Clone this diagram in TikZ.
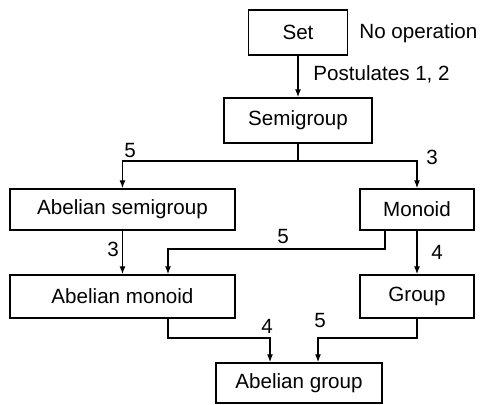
\documentclass[tikz,border=0pt]{standalone}
\usepackage{fontspec}
\setmainfont{Liberation Sans}
\usetikzlibrary{arrows.meta}
\begin{document}
\begin{tikzpicture}[x=0.5pt,y=-0.5pt,
  font=\fontsize{10.3}{12}\selectfont,
  box/.style={draw,line width=0.7pt,inner sep=0pt},
  link/.style={line width=0.6pt},
  arr/.style={link,-{Latex[length=4pt,width=3pt]}}]
\useasboundingbox (0,0) rectangle (484,405);
\node[box,minimum width=49.5pt,minimum height=22.5pt] (set) at (298,32.5) {Set};
\node[box,minimum width=74pt,minimum height=22.5pt] (semi) at (298,120.5) {Semigroup};
\node[box,minimum width=112.5pt,minimum height=20.5pt] (absemi) at (122.5,209.5) {Abelian semigroup};
\node[box,minimum width=57pt,minimum height=20.5pt] (monoid) at (417,209.5) {Monoid};
\node[box,minimum width=112.5pt,minimum height=21.5pt] (abmon) at (122.5,296.5) {Abelian monoid};
\node[box,minimum width=57pt,minimum height=21.5pt] (group) at (417,296.5) {Group};
\node[box,minimum width=83pt,minimum height=20pt] (abgrp) at (299,383) {Abelian group};
% bends
\coordinate (j1) at (298,161);
\coordinate (b5) at (385,249);
\coordinate (c5) at (168,249);
\coordinate (b4) at (168,338);
\coordinate (e4) at (270,338);
\coordinate (e5) at (318,338);
% labels
\node[anchor=west,inner sep=0pt] (noop) at (359,33) {No operation};
\node[anchor=west,inner sep=0pt] (post) at (313,74) {Postulates 1, 2};
\node (l1) at (130,151) {5};
\node (l2) at (432,157) {3};
\node (l3) at (113,249) {3};
\node (l4) at (283,237) {5};
\node (l5) at (437,252) {4};
\node (l6) at (267,326) {4};
\node (l7) at (320,321) {5};
% connectors
\draw[arr] (set) -- (semi);
\draw[link] (semi) -- (j1);
\draw[arr] (j1) -| (absemi.north);
\draw[arr] (j1) -| (monoid.north);
\draw[arr] (absemi) -- (abmon);
\draw[arr] (monoid.south -| b5) -- (b5) -- (c5) -- (c5 |- abmon.north);
\draw[arr] (monoid) -- (group);
\draw[arr] (abmon.south -| b4) -- (b4) -- (e4) -- (e4 |- abgrp.north);
\draw[arr] (group.south) |- (e5) -- (e5 |- abgrp.north);
\end{tikzpicture}
\end{document}
